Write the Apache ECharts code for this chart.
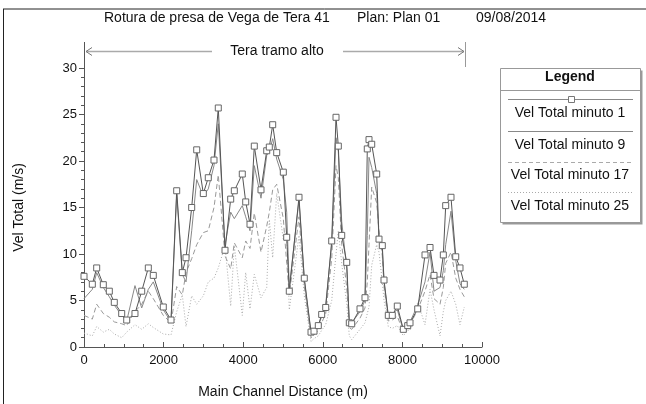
<!DOCTYPE html>
<html><head><meta charset="utf-8">
<script src="https://cdn.jsdelivr.net/npm/echarts@6/dist/echarts.min.js"></script>
<style>html,body{margin:0;padding:0;background:#fff}#c{width:646px;height:404px}</style>
</head><body><div id="c"></div>
<script>
const distance = [0,209,319,485,636,761,947,1073,1281,1450,1616,1741,1992,2186,2329,2470,2563,2706,2832,2998,3123,3266,3374,3543,3686,3777,3977,4063,4171,4279,4447,4591,4656,4741,4842,5008,5093,5158,5402,5535,5704,5779,5887,5972,6073,6224,6332,6390,6475,6601,6666,6726,6935,7060,7118,7161,7229,7354,7412,7495,7538,7646,7746,7872,8023,8134,8191,8385,8568,8694,8794,8945,9028,9088,9221,9340,9447,9555];
const velMin1 = [7.6,6.75,8.5,6.7,6.0,4.8,3.6,2.9,3.6,6.0,8.5,7.7,4.3,2.9,16.8,8.0,9.6,15.0,21.2,16.5,18.2,20.1,25.7,10.4,15.9,16.8,18.6,15.6,13.2,21.6,16.9,21.1,21.5,23.9,20.9,18.8,11.8,6.0,16.1,7.4,1.6,1.7,2.3,3.5,4.25,11.4,24.7,21.6,12.0,9.1,2.6,2.5,4.1,5.3,21.3,22.3,21.8,18.6,11.6,10.9,7.2,3.4,3.4,4.4,1.9,2.3,2.6,4.1,9.9,10.7,7.7,7.2,9.9,15.2,16.1,9.7,8.5,6.75];
const velMin9 = [5.2,6.2,8.0,6.4,5.4,4.5,3.4,2.8,6.6,4.2,6.2,7.0,4.0,2.7,16.4,7.8,7.0,12.5,18.0,16.2,17.0,19.5,24.0,11.0,14.5,13.8,15.2,14.0,12.5,19.5,16.0,20.6,21.0,22.4,20.2,18.0,14.5,6.4,15.8,7.2,1.5,1.8,2.2,3.3,4.6,11.0,22.5,21.0,13.5,8.4,2.7,2.6,3.8,5.0,12.0,20.4,19.3,16.5,11.8,10.4,7.0,3.2,3.6,4.0,1.8,2.2,2.7,4.5,7.0,10.2,6.0,6.4,8.2,11.0,14.6,9.3,6.8,6.2];
const velMin17 = [3.4,3.0,4.6,3.6,3.2,2.7,2.5,2.3,3.8,4.6,6.0,5.2,3.4,2.6,6.5,5.6,8.0,9.5,11.0,12.3,12.5,15.0,18.5,9.8,8.4,11.2,9.6,11.4,10.6,14.4,10.2,13.0,14.5,16.9,17.5,13.8,9.0,5.6,14.0,6.5,1.0,1.3,1.8,2.6,3.6,9.5,19.5,18.2,11.0,6.4,2.1,1.9,3.1,4.2,7.0,11.0,17.2,15.5,12.5,9.8,6.5,2.8,2.9,3.3,1.6,2.0,2.4,4.0,6.0,7.8,5.2,4.6,6.4,9.0,10.2,7.4,6.2,5.4];
const velMin25 = [1.5,1.2,2.2,1.6,1.9,1.4,1.0,1.6,2.4,1.9,2.5,2.1,1.4,1.3,3.8,5.6,2.2,5.5,4.6,5.5,7.0,7.4,8.5,10.9,4.4,10.9,3.4,8.0,4.1,7.8,5.3,6.4,13.7,9.6,16.5,11.6,12.5,4.0,12.0,5.5,0.6,0.9,1.2,1.8,2.4,5.0,10.0,12.5,9.0,4.6,1.2,0.8,1.9,2.6,3.6,4.3,8.8,11.0,10.2,7.0,5.0,2.2,2.0,2.3,1.2,1.8,1.8,4.8,2.4,6.2,4.0,1.2,3.8,5.0,6.0,4.6,2.4,4.3];
const seriesNames = ['Vel Total minuto 1','Vel Total minuto 9','Vel Total minuto 17','Vel Total minuto 25'];
const xTicks = [0,2000,4000,6000,8000,10000];
const yTicks = [0,5,10,15,20,25,30];
const titleParts = ['Rotura de presa de Vega de Tera 41','Plan: Plan 01','09/08/2014'];
const reachLabel = 'Tera tramo alto';

const pairs = v => distance.map((d,i)=>[d,v[i]]);
const F = 'Liberation Sans, Arial, sans-serif';
const chart = echarts.init(document.getElementById('c'), null, {renderer:'canvas'});

const legendX = 500, legendY = 68, legendW = 140, legendH = 154;
const legendItems = [
  {y:99, ty:113, dash:'solid', color:'#888', marker:true},
  {y:131, ty:145, dash:'solid', color:'#888'},
  {y:162, ty:175, dash:[4,3], color:'#aaa'},
  {y:192, ty:206, dash:[1,2], color:'#aaa'}
];
const graphics = [
  {type:'line', shape:{x1:3,y1:9,x2:646,y2:9}, style:{stroke:'#222',lineWidth:1}},
  {type:'line', shape:{x1:3.5,y1:9,x2:3.5,y2:404}, style:{stroke:'#222',lineWidth:1}},
  {type:'text', left:104, top:11, style:{text:titleParts[0], font:'14px '+F, fill:'#111'}},
  {type:'text', left:357, top:11, style:{text:titleParts[1], font:'14px '+F, fill:'#111'}},
  {type:'text', left:476, top:11, style:{text:titleParts[2], font:'14px '+F, fill:'#111'}},
  {type:'line', shape:{x1:84.5,y1:42,x2:84.5,y2:68}, style:{stroke:'#555',lineWidth:1}},
  {type:'line', shape:{x1:465.5,y1:42,x2:465.5,y2:67}, style:{stroke:'#999',lineWidth:1}},
  {type:'line', shape:{x1:86,y1:51.5,x2:212,y2:51.5}, style:{stroke:'#aaa',lineWidth:1.5}},
  {type:'line', shape:{x1:343,y1:51.5,x2:464,y2:51.5}, style:{stroke:'#aaa',lineWidth:1.5}},
  {type:'polyline', shape:{points:[[92,47.5],[86,51.5],[92,55.5]]}, style:{stroke:'#777',fill:null,lineWidth:1}},
  {type:'polyline', shape:{points:[[458,47.5],[464,51.5],[458,55.5]]}, style:{stroke:'#777',fill:null,lineWidth:1}},
  {type:'text', x:277, y:51, style:{text:reachLabel, font:'14px '+F, fill:'#111', align:'center', verticalAlign:'middle'}},
  {type:'rect', shape:{x:legendX+2.5,y:legendY+2.5,width:legendW,height:legendH}, style:{fill:'#999',stroke:null}},
  {type:'rect', shape:{x:legendX+0.5,y:legendY+0.5,width:legendW,height:legendH}, style:{fill:'#fff',stroke:'#999',lineWidth:1}},
  {type:'text', x:legendX+legendW/2, y:77, style:{text:'Legend', font:'bold 14px '+F, fill:'#111', align:'center', verticalAlign:'middle'}},
  {type:'line', shape:{x1:legendX,y1:90.5,x2:legendX+legendW,y2:90.5}, style:{stroke:'#999',lineWidth:1}}
];
legendItems.forEach((it,i)=>{
  graphics.push({type:'line', shape:{x1:508,y1:it.y+0.5,x2:633,y2:it.y+0.5}, style:{stroke:it.color,lineWidth:1,lineDash:it.dash}});
  if(it.marker) graphics.push({type:'rect', shape:{x:568.5,y:it.y-2.5,width:6,height:6}, style:{fill:'#fff',stroke:'#777',lineWidth:1}});
  graphics.push({type:'text', x:legendX+legendW/2, y:it.ty, style:{text:seriesNames[i], font:'14px '+F, fill:'#111', align:'center', verticalAlign:'middle'}});
});

chart.setOption({
  animation:false,
  backgroundColor:'#fff',
  grid:{left:84, right:164, top:68, bottom:56, containLabel:false},
  xAxis:{type:'value', min:0, max:10000, interval:2000,
    name:'Main Channel Distance (m)', nameLocation:'middle', nameGap:38,
    nameTextStyle:{fontFamily:F, fontSize:14, color:'#111'},
    axisLine:{show:true, lineStyle:{color:'#555'}},
    axisTick:{show:true, inside:true, length:5, lineStyle:{color:'#555'}},
    minorTick:{show:true, splitNumber:4, length:3, lineStyle:{color:'#555'}},
    axisLabel:{fontFamily:F, fontSize:13, color:'#111', margin:7, formatter:v=>xTicks.includes(v)?String(v):''},
    splitLine:{show:false}},
  yAxis:{type:'value', min:0, max:30, interval:5,
    name:'Vel Total (m/s)', nameLocation:'middle', nameGap:58, nameRotate:90,
    nameTextStyle:{fontFamily:F, fontSize:14, color:'#111'},
    axisLine:{show:true, lineStyle:{color:'#555'}},
    axisTick:{show:true, inside:false, length:5, lineStyle:{color:'#555'}},
    minorTick:{show:true, splitNumber:5, length:3, lineStyle:{color:'#555'}},
    axisLabel:{fontFamily:F, fontSize:13, color:'#111', margin:7, formatter:v=>yTicks.includes(v)?String(v):''},
    splitLine:{show:false}},
  series:[
    {name:seriesNames[3], type:'line', data:pairs(velMin25), symbol:'none', lineStyle:{color:'#aaa', width:1, type:[1,2]}, z:2},
    {name:seriesNames[2], type:'line', data:pairs(velMin17), symbol:'none', lineStyle:{color:'#999', width:1, type:[5,3]}, z:3},
    {name:seriesNames[1], type:'line', data:pairs(velMin9), symbol:'none', lineStyle:{color:'#888', width:1}, z:4},
    {name:seriesNames[0], type:'line', data:pairs(velMin1), symbol:'rect', symbolSize:6, showAllSymbol:true,
      itemStyle:{color:'#fff', borderColor:'#666', borderWidth:1}, lineStyle:{color:'#555', width:1}, z:5}
  ],
  graphic:graphics
});
</script></body></html>
